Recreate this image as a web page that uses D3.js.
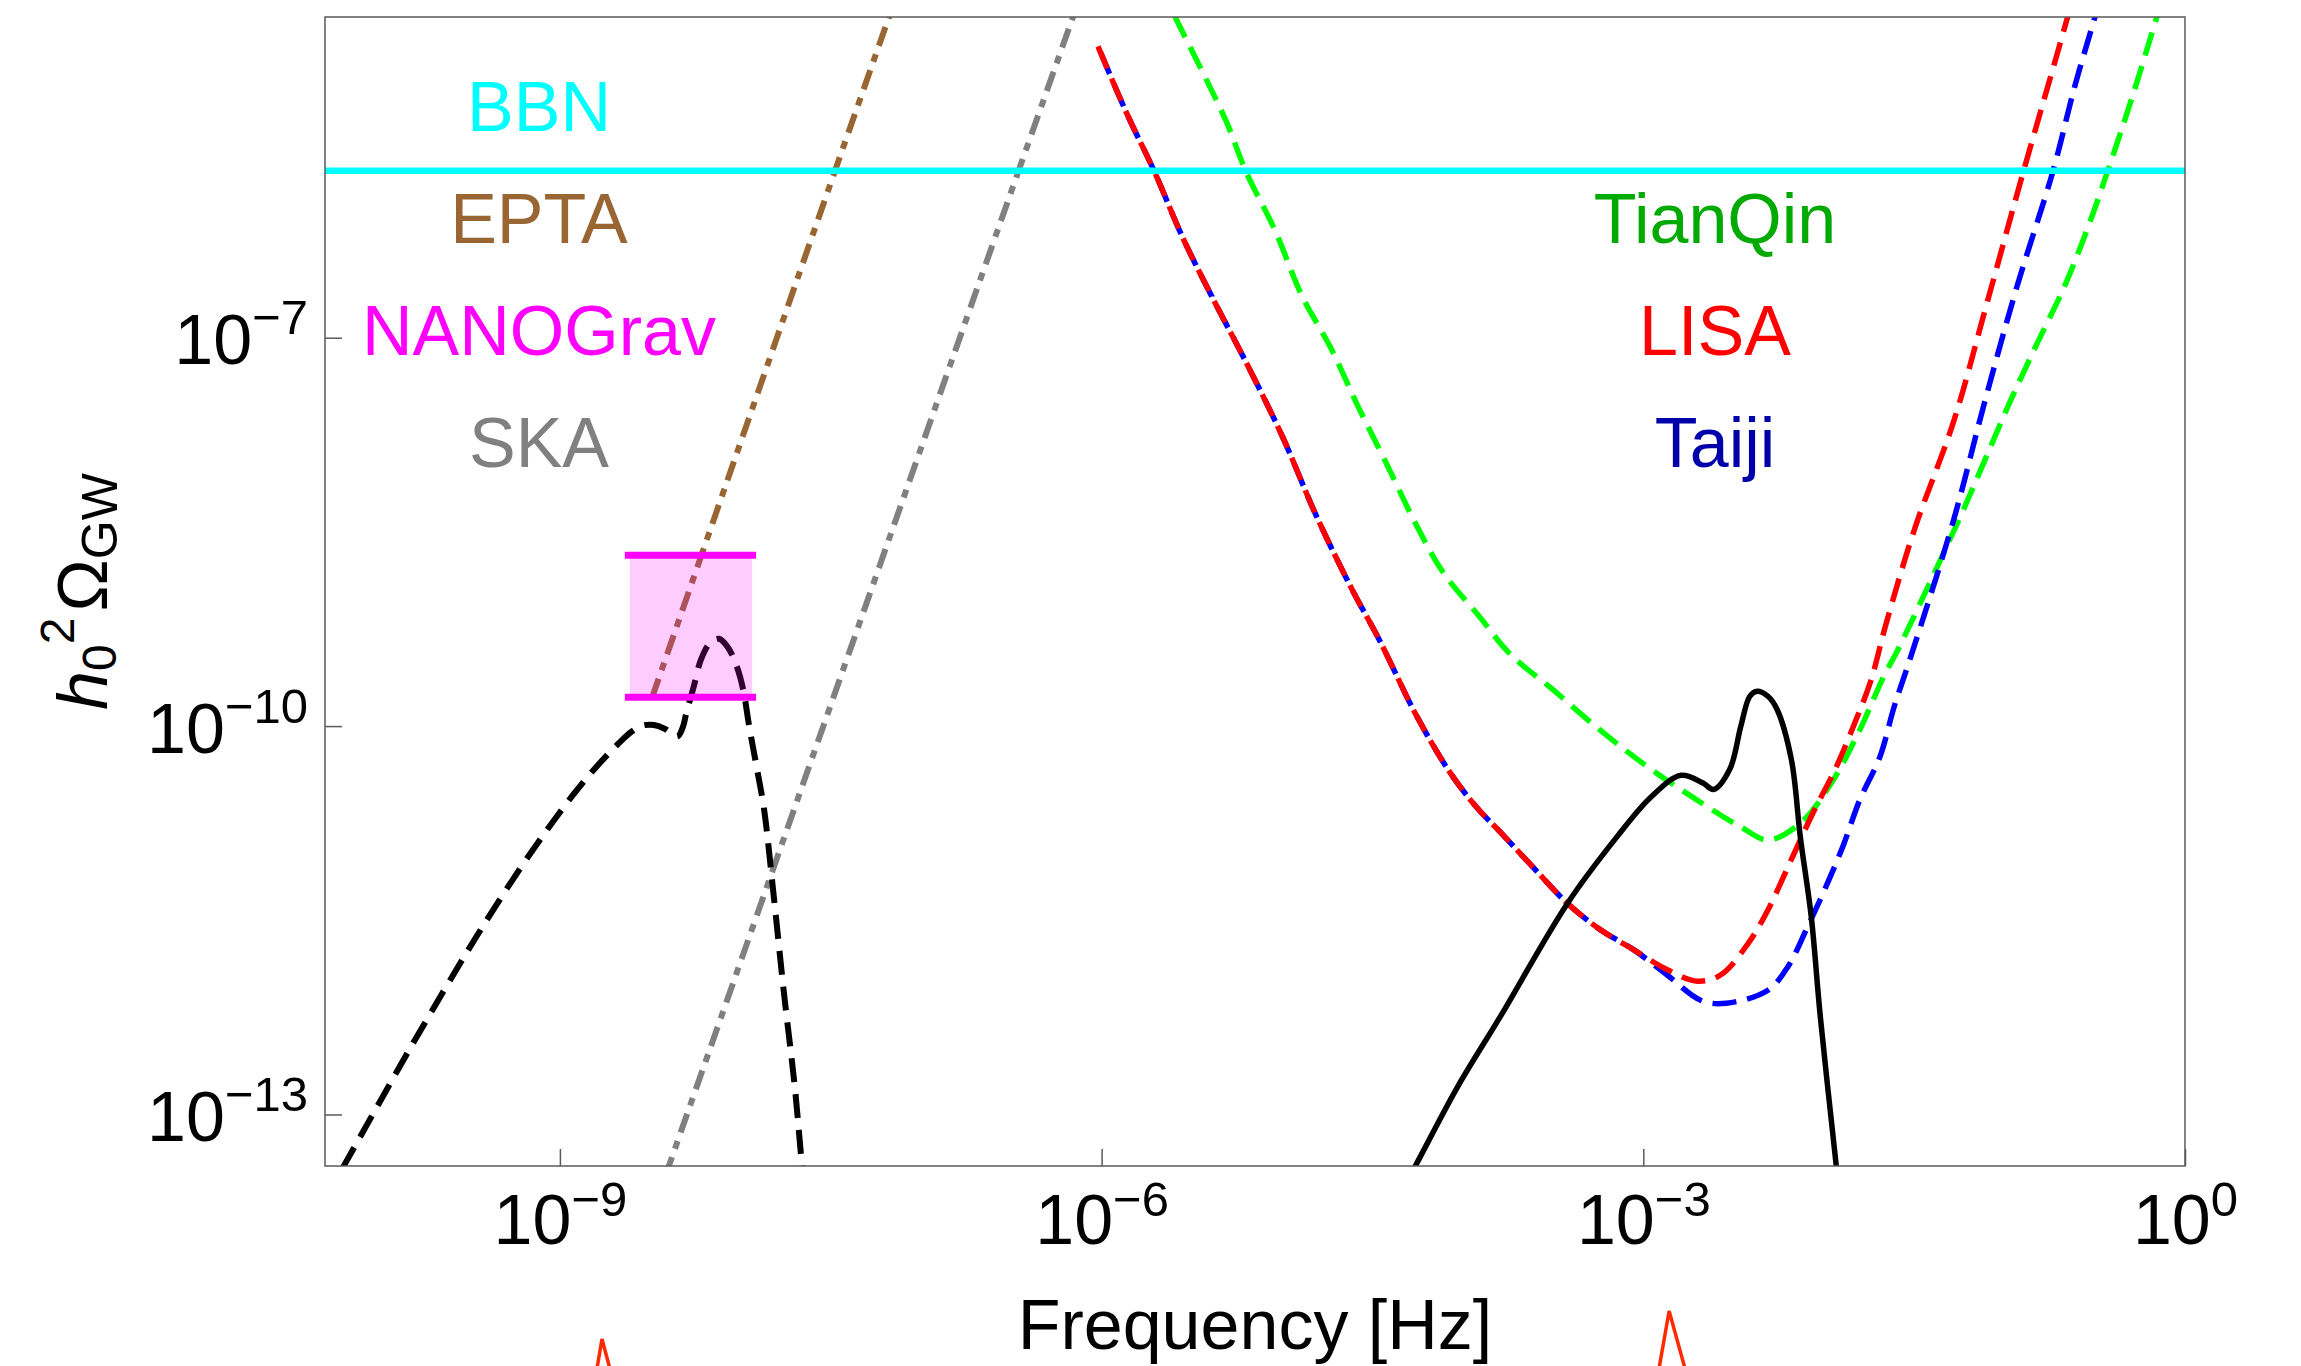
<!DOCTYPE html>
<html>
<head>
<meta charset="utf-8">
<script src="https://cdn.jsdelivr.net/npm/d3@7"></script>
<style>
  html, body { margin: 0; padding: 0; background: #ffffff; overflow: hidden; }
  svg { display: block; }
  text { font-family: "Liberation Sans", Arial, Helvetica, sans-serif; }
</style>
</head>
<body>
<svg id="chart" width="2301" height="1366"></svg>
<script>
// ---- Axis ticks and labels ----
const freqTicks = [1e-9, 1e-6, 1e-3, 1];
const freqTickExp = ["\u22129", "\u22126", "\u22123", "0"];
const omegaTicks = [1e-13, 1e-10, 1e-7];
const omegaTickExp = ["\u221213", "\u221210", "\u22127"];

// ---- Experiment names ----
const leftNames = ["BBN", "EPTA", "NANOGrav", "SKA"];
const rightNames = ["TianQin", "LISA", "Taiji"];

// ---- BBN bound ----
const bbnOmega = 1.95e-6;

// ---- NANOGrav band [f_low, f_high, Omega_low, Omega_high] ----
const nanogravBand = [2.44e-9, 1.16e-8, 1.67e-10, 2.09e-9];

// ---- PTA sensitivity lines [f, Omega] ----
const eptaCurve = [[3.24e-9, 1.66e-10], [3.34e-8, 1.95e-6], [1e-7, 1.51e-4]];
const skaCurve = [[3.16e-9, 1.55e-14], [3.47e-7, 1.95e-6], [1e-6, 1.26e-4]];

// ---- Space interferometer sensitivities [f, Omega] ----
const lisaCurve = [
  [9.55e-7, 1.78e-5], [1.38e-6, 5.37e-6], [1.95e-6, 1.95e-6], [2.82e-6, 5.89e-7],
  [4.07e-6, 2.09e-7], [6.31e-6, 6.46e-8], [1.0e-5, 1.74e-8], [1.55e-5, 4.17e-9],
  [2.45e-5, 1.12e-9], [3.47e-5, 4.57e-10], [5.50e-5, 1.23e-10], [8.51e-5, 4.37e-11],
  [1.20e-4, 2.34e-11], [1.62e-4, 1.51e-11], [2.45e-4, 8.13e-12], [3.80e-4, 4.27e-12],
  [5.75e-4, 2.69e-12], [8.91e-4, 1.86e-12], [1.35e-3, 1.32e-12], [2.00e-3, 1.07e-12],
  [2.69e-3, 1.20e-12], [3.80e-3, 2.09e-12], [4.90e-3, 3.80e-12], [6.61e-3, 9.33e-12],
  [8.71e-3, 2.14e-11], [1.15e-2, 4.57e-11], [1.48e-2, 1.05e-10], [1.82e-2, 2.24e-10],
  [2.19e-2, 5.89e-10], [3.16e-2, 3.24e-9], [5.25e-2, 2.29e-8], [7.94e-2, 1.78e-7],
  [0.126, 1.82e-6], [0.214, 2.40e-5], [0.251, 5.37e-5]
];
const taijiCurve = [
  [9.55e-7, 1.78e-5], [1.38e-6, 5.37e-6], [1.95e-6, 1.95e-6], [2.82e-6, 5.89e-7],
  [4.07e-6, 2.09e-7], [6.31e-6, 6.46e-8], [1.0e-5, 1.74e-8], [1.55e-5, 4.17e-9],
  [2.45e-5, 1.12e-9], [3.47e-5, 4.57e-10], [5.50e-5, 1.23e-10], [8.51e-5, 4.37e-11],
  [1.20e-4, 2.34e-11], [1.62e-4, 1.51e-11], [2.45e-4, 8.13e-12], [3.80e-4, 4.27e-12],
  [5.75e-4, 2.69e-12], [8.91e-4, 1.86e-12], [1.35e-3, 1.20e-12], [2.09e-3, 7.59e-13],
  [2.88e-3, 7.24e-13], [4.90e-3, 9.12e-13], [6.31e-3, 1.38e-12], [8.13e-3, 2.82e-12],
  [1.05e-2, 6.17e-12], [1.29e-2, 1.23e-11], [1.58e-2, 2.69e-11], [2.04e-2, 5.75e-11],
  [2.45e-2, 1.41e-10], [3.02e-2, 3.39e-10], [5.25e-2, 3.98e-9], [7.76e-2, 3.16e-8],
  [0.117, 2.45e-7], [0.186, 1.95e-6], [0.245, 8.71e-6], [0.316, 2.95e-5], [0.355, 5.25e-5]
];
const tianqinCurve = [
  [2.09e-6, 5.37e-5], [2.57e-6, 2.95e-5], [4.90e-6, 4.68e-6], [6.31e-6, 1.91e-6],
  [9.12e-6, 6.76e-7], [1.29e-5, 2.09e-7], [1.86e-5, 8.32e-8], [2.63e-5, 2.95e-8],
  [3.80e-5, 1.05e-8], [5.50e-5, 3.63e-9], [7.76e-5, 1.55e-9], [1.23e-4, 7.08e-10],
  [1.82e-4, 3.63e-10], [3.16e-4, 1.91e-10], [5.75e-4, 9.33e-11], [1.0e-3, 5.13e-11],
  [1.74e-3, 3.02e-11], [3.47e-3, 1.66e-11], [4.90e-3, 1.32e-11], [7.41e-3, 1.78e-11],
  [1.10e-2, 3.63e-11], [1.58e-2, 9.33e-11], [2.14e-2, 2.40e-10], [2.57e-2, 3.89e-10],
  [5.62e-2, 3.98e-9], [7.76e-2, 1.12e-8], [0.107, 3.16e-8], [0.151, 8.91e-8],
  [0.214, 2.45e-7], [0.288, 6.92e-7], [0.380, 2.09e-6], [0.513, 7.41e-6],
  [0.692, 2.88e-5], [0.794, 5.37e-5]
];

// ---- Predicted spectra [f, Omega] ----
const ptaSpectrum = [
  [5.01e-11, 2.19e-14], [6.46e-11, 4.17e-14], [9.55e-11, 1.10e-13], [1.41e-10, 2.88e-13],
  [2.24e-10, 8.71e-13], [3.47e-10, 2.40e-12], [5.89e-10, 7.59e-12], [8.71e-10, 1.66e-11],
  [1.20e-9, 3.02e-11], [1.58e-9, 4.79e-11], [2.09e-9, 7.24e-11], [2.51e-9, 9.12e-11],
  [2.88e-9, 1.01e-10], [3.31e-9, 1.02e-10], [3.80e-9, 9.55e-11], [4.47e-9, 8.32e-11],
  [4.79e-9, 9.77e-11], [5.01e-9, 1.26e-10], [5.50e-9, 2.00e-10], [6.03e-9, 3.24e-10],
  [6.76e-9, 4.37e-10], [7.59e-9, 4.73e-10], [8.51e-9, 4.07e-10], [9.55e-9, 2.88e-10],
  [1.035e-8, 1.91e-10], [1.12e-8, 9.77e-11], [1.23e-8, 4.79e-11], [1.35e-8, 2.29e-11],
  [1.53e-8, 4.79e-12], [1.74e-8, 8.71e-13], [2.00e-8, 1.62e-13], [2.19e-8, 4.07e-14],
  [2.40e-8, 1.26e-14]
];
const spaceSpectrum = [
  [4.79e-5, 2.88e-14], [5.50e-5, 4.07e-14], [9.33e-5, 1.62e-13], [1.62e-4, 5.75e-13],
  [3.80e-4, 4.27e-12], [7.16e-4, 1.40e-11], [1.10e-3, 2.82e-11], [1.62e-3, 4.17e-11],
  [2.14e-3, 3.63e-11], [2.45e-3, 3.24e-11], [3.02e-3, 4.68e-11], [3.47e-3, 1.0e-10],
  [3.89e-3, 1.70e-10], [4.27e-3, 1.86e-10], [4.90e-3, 1.70e-10], [5.50e-3, 1.35e-10],
  [6.61e-3, 5.50e-11], [7.41e-3, 1.38e-11], [8.51e-3, 3.39e-12], [9.55e-3, 5.75e-13],
  [1.17e-2, 4.07e-14], [1.26e-2, 1.58e-14]
];

// ---- Frequencies flagged below the axis ----
const markerFreqs = [1.71e-9, 1.39e-3];

// ================= drawing =================
const W = 2301, H = 1366;
const plot = { left: 325, right: 2185, top: 17, bottom: 1166 };
const FONT = 70, SUPFONT = 49;

const svg = d3.select("#chart");
svg.append("rect").attr("width", W).attr("height", H).attr("fill", "#ffffff");

const x = d3.scaleLog().domain([5e-11, 1]).range([plot.left, plot.right]);
const y = d3.scaleLog().domain([4e-14, 3e-5]).range([plot.bottom, plot.top]);

svg.append("defs").append("clipPath").attr("id", "plotClip")
  .append("rect")
  .attr("x", plot.left).attr("y", plot.top)
  .attr("width", plot.right - plot.left).attr("height", plot.bottom - plot.top);

const g = svg.append("g").attr("clip-path", "url(#plotClip)");

const smoothLine = d3.line()
  .x(d => x(d[0])).y(d => y(d[1]))
  .curve(d3.curveCatmullRom.alpha(0.5));

function drawCurve(data, color, width, dash, offset) {
  g.append("path")
    .datum(data)
    .attr("d", smoothLine)
    .attr("fill", "none")
    .attr("stroke", color)
    .attr("stroke-width", width)
    .attr("stroke-dasharray", dash || null)
    .attr("stroke-dashoffset", offset || 0)
    .attr("stroke-linejoin", "round");
}

// PTA sensitivities (dot-dashed)
drawCurve(skaCurve, "#808080", 6, "20 9 8 9");
drawCurve(eptaCurve, "#996633", 6, "20 9 8 9");

// Predicted spectrum in the PTA band
drawCurve(ptaSpectrum, "#000000", 6, "24 12");

// Space interferometers
drawCurve(tianqinCurve, "#00ff00", 5.5, "24 11");
drawCurve(taijiCurve, "#0000ff", 5.5, "24 11", -6);
drawCurve(lisaCurve, "#ff0000", 5.5, "24 11");

// Predicted spectrum in the mHz band
drawCurve(spaceSpectrum, "#000000", 5.5, null);

// BBN bound
g.append("line")
  .attr("x1", plot.left).attr("x2", plot.right)
  .attr("y1", y(bbnOmega)).attr("y2", y(bbnOmega))
  .attr("stroke", "#00ffff").attr("stroke-width", 6.5);

// NANOGrav band
const [nfLo, nfHi, noLo, noHi] = nanogravBand;
g.append("rect")
  .attr("x", x(nfLo)).attr("width", x(nfHi) - x(nfLo))
  .attr("y", y(noHi)).attr("height", y(noLo) - y(noHi))
  .attr("fill", "#ff00ff").attr("fill-opacity", 0.2);
[noLo, noHi].forEach(v => {
  g.append("line")
    .attr("x1", x(nfLo) - 5).attr("x2", x(nfHi) + 4)
    .attr("y1", y(v)).attr("y2", y(v))
    .attr("stroke", "#ff00ff").attr("stroke-width", 7);
});

// ---- frame and axes ----
const frameColor = "#5a5a5a";
svg.append("rect")
  .attr("x", plot.left).attr("y", plot.top)
  .attr("width", plot.right - plot.left).attr("height", plot.bottom - plot.top)
  .attr("fill", "none").attr("stroke", frameColor).attr("stroke-width", 1.5);

const xAxis = d3.axisBottom(x).tickValues(freqTicks).tickSize(-17).tickFormat(() => "");
const xg = svg.append("g").attr("transform", `translate(0,${plot.bottom})`).call(xAxis);
xg.select(".domain").remove();
xg.selectAll(".tick line").attr("stroke", frameColor).attr("stroke-width", 1.5);
xg.selectAll(".tick text").remove();
xg.selectAll(".tick").each(function (d, i) {
  const t = d3.select(this).append("text")
    .attr("y", 78).attr("text-anchor", "middle")
    .attr("fill", "#000").attr("font-size", FONT);
  t.append("tspan").text("10");
  t.append("tspan").attr("font-size", SUPFONT).attr("dy", -28).text(freqTickExp[i]);
});

const yAxis = d3.axisLeft(y).tickValues(omegaTicks).tickSize(-17).tickFormat(() => "");
const yg = svg.append("g").attr("transform", `translate(${plot.left},0)`).call(yAxis);
yg.select(".domain").remove();
yg.selectAll(".tick line").attr("stroke", frameColor).attr("stroke-width", 1.5);
yg.selectAll(".tick text").remove();
yg.selectAll(".tick").each(function (d, i) {
  const t = d3.select(this).append("text")
    .attr("x", -17).attr("y", 26).attr("text-anchor", "end")
    .attr("fill", "#000").attr("font-size", FONT);
  t.append("tspan").text("10");
  t.append("tspan").attr("font-size", SUPFONT).attr("dy", -30).text(omegaTickExp[i]);
});

// axis titles
svg.append("text")
  .attr("x", (plot.left + plot.right) / 2).attr("y", 1349)
  .attr("text-anchor", "middle").attr("font-size", FONT).attr("fill", "#000")
  .text("Frequency [Hz]");

const yl = svg.append("text")
  .attr("transform", `translate(107,${(plot.top + plot.bottom) / 2}) rotate(-90)`)
  .attr("text-anchor", "middle").attr("font-size", FONT).attr("fill", "#000");
yl.append("tspan").attr("font-style", "italic").text("h");
yl.append("tspan").attr("font-size", 48).attr("dy", 9).text("0");
yl.append("tspan").attr("font-size", 48).attr("dy", -42).text("2");
yl.append("tspan").attr("dy", 33).attr("dx", 6).text("\u03A9");
yl.append("tspan").attr("font-size", 50).attr("dy", 10).text("GW");

// ---- experiment labels ----
const labelRows = [131, 243, 355, 467];
const leftColors = ["#00ffff", "#996633", "#ff00ff", "#808080"];
leftNames.forEach((name, i) => {
  svg.append("text")
    .attr("x", 539).attr("y", labelRows[i])
    .attr("text-anchor", "middle").attr("font-size", FONT)
    .attr("fill", leftColors[i]).text(name);
});
const rightColors = ["#00aa00", "#ff0000", "#0000aa"];
rightNames.forEach((name, i) => {
  svg.append("text")
    .attr("x", 1715).attr("y", labelRows[i + 1])
    .attr("text-anchor", "middle").attr("font-size", FONT)
    .attr("fill", rightColors[i]).text(name);
});

// ---- arrow tips below the axis ----
const tipRise = [27, 55];
markerFreqs.forEach((f, i) => {
  const cx = x(f);
  const top = H - tipRise[i];
  const half = tipRise[i] * 0.26;
  svg.append("path")
    .attr("d", d3.line()([[cx - half * 0.7, H + 2], [cx, top], [cx + half * 1.1, H + 2]]))
    .attr("fill", "none").attr("stroke", "#ff2a00").attr("stroke-width", 3.5)
    .attr("stroke-linejoin", "miter");
});
</script>
</body>
</html>
